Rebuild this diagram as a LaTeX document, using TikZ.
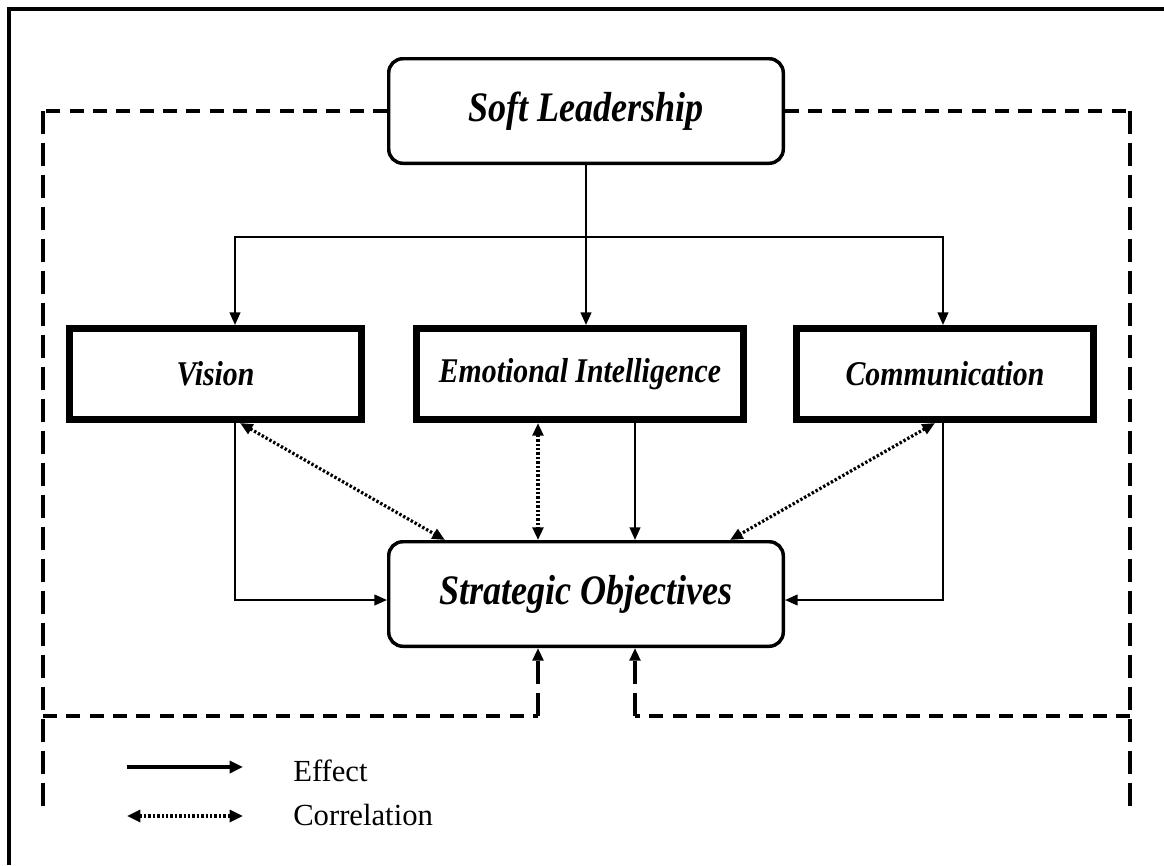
\documentclass[tikz,border=0pt]{standalone}
\usepackage{fontspec}
\setmainfont{Liberation Serif}
\newfontfamily\labelfont[FakeStretch=0.86]{Liberation Serif}
\usetikzlibrary{arrows.meta,calc}

\begin{document}
\begin{tikzpicture}[x=0.75pt,y=-0.75pt,
  frameline/.style={line width=2.6pt},
  hubbox/.style={draw, rounded corners=10.5pt, line width=2.6pt,
    minimum width=295.9pt, minimum height=78.4pt, inner sep=0pt,
    font=\labelfont\bfseries\itshape\fontsize{31.5}{36}\selectfont},
  dimbox/.style={draw, line width=5.25pt, minimum height=68.25pt, inner sep=0pt,
    font=\labelfont\bfseries\itshape\fontsize{26}{30}\selectfont},
  link/.style={line width=1.6pt},
  effect/.style={line width=1.6pt, -{Triangle[length=9.5pt,width=8pt]}},
  corr/.style={line width=2.4pt, dash pattern=on 1.8pt off 1.5pt,
    {Triangle[length=9.5pt,width=8pt]}-{Triangle[length=9.5pt,width=8pt]}},
  feedh/.style={line width=3pt, dash pattern=on 10.5pt off 7pt},
  feedv/.style={line width=3pt, dash pattern=on 17pt off 7pt},
  legendtext/.style={anchor=west, inner sep=0pt, font=\fontsize{23}{27}\selectfont}]

\useasboundingbox (0,0) rectangle (1164,865);

% page frame
\draw[frameline] (9,865) -- (9,9) -- (1164,9);

% boxes
\node[hubbox] (sl) at (586,111) {Soft Leadership};
\node[dimbox, minimum width=219pt] (vis) at (215.5,374) {Vision};
\node[dimbox, minimum width=245.25pt] (ei) at (580,374) {Emotional Intelligence};
\node[dimbox, minimum width=222.75pt] (com) at (945,374) {Communication};
\node[hubbox] (so) at (586,594) {Strategic Objectives};

% branching from Soft Leadership
\coordinate (hub) at (585,237);
\coordinate (visIn) at ($(vis.north)+(19.5,0)$);
\coordinate (comIn) at ($(com.north)+(-2,0)$);
\draw[link] (sl.south) -- (sl.south |- hub);
\draw[effect] (sl.south |- hub) -| (visIn);
\draw[effect] (sl.south |- hub) -| (comIn);
\draw[effect] (sl.south |- hub) -- (sl.south |- ei.north);

% effects on Strategic Objectives
\coordinate (visOut) at ($(vis.south)+(19.5,0)$);
\coordinate (comOut) at ($(com.south)+(-2,0)$);
\coordinate (eiE) at ($(ei.south)+(55,0)$);
\coordinate (eiC) at ($(ei.south)+(-42,0)$);
\draw[effect] (visOut) |- ($(so.west)+(0,6)$);
\draw[effect] (comOut) |- ($(so.east)+(0,6)$);
\draw[effect] (eiE) -- (eiE |- so.north);

% correlations
\draw[corr] (eiC) -- (eiC |- so.north);
\draw[corr] ($(vis.south)+(24.5,0)$) -- ($(so.north)+(-141,0)$);
\draw[corr] ($(com.south)+(-10,0)$) -- ($(so.north)+(144,0)$);

% dashed feedback loops
\coordinate (ltop) at (43,111);
\coordinate (lmid) at (43,716);
\coordinate (lbot) at (43,808);
\coordinate (rtop) at (1130,111);
\coordinate (rmid) at (1130,716);
\coordinate (rbot) at (1130,808);
\draw[feedh] (sl.west) -- (ltop);
\draw[feedv] (ltop) -- (lbot);
\draw[feedh] (sl.east) -- (rtop);
\draw[feedv] (rtop) -- (rbot);
\draw[feedh] (lmid) -- (lmid -| eiC);
\draw[feedv, -{Triangle[length=9.5pt,width=8pt]}] (lmid -| eiC) -- (eiC |- so.south);
\draw[feedh] (rmid) -- (rmid -| eiE);
\draw[feedv, -{Triangle[length=9.5pt,width=8pt]}] (rmid -| eiE) -- (eiE |- so.south);

% legend
\coordinate (e1) at (127,767);
\coordinate (e2) at (243,767);
\coordinate (c1) at (127,816);
\coordinate (c2) at (243,816);
\draw[line width=2.6pt, -{Triangle[length=10pt,width=9pt]}] (e1) -- (e2);
\draw[line width=2.4pt, dash pattern=on 1.8pt off 1.5pt,
  {Triangle[length=10pt,width=9pt]}-{Triangle[length=10pt,width=9pt]}] (c1) -- (c2);
\node[legendtext] (effLbl) at (293,771) {Effect};
\node[legendtext] (corLbl) at (293,815) {Correlation};

\end{tikzpicture}
\end{document}
